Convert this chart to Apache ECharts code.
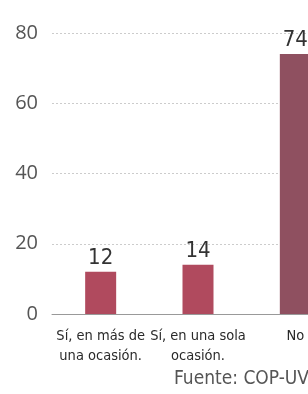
<!DOCTYPE html>
<html><head><meta charset="utf-8">
<script src="https://cdn.jsdelivr.net/npm/echarts@6/dist/echarts.min.js"></script>
<style>html,body{margin:0;padding:0;background:#fff;overflow:hidden;width:308px;height:394px;}#c{width:344px;height:394px;}</style>
</head><body><div id="c"></div>
<script>
var categories = ['Sí, en más de\nuna ocasión.', 'Sí, en una sola\nocasión.', 'No'];
var values = [12, 14, 74];
var barColors = ['#b04a5e', '#b04a5e', '#8f5060'];
var yTicks = [0, 20, 40, 60, 80];
var source = 'Fuente: COP-UV';

var chart = echarts.init(document.getElementById('c'));
chart.setOption({
  animation: false,
  backgroundColor: '#fff',
  graphic: [{
    type: 'text', left: 174, top: 370,
    style: { text: source, font: '300 19px "Liberation Sans Narrow", "DejaVu Sans Condensed", sans-serif', fill: '#555' }
  }],
  grid: { left: 52, right: 0, top: 33, bottom: 80, containLabel: false },
  xAxis: {
    type: 'category', data: categories,
    axisTick: { show: false },
    axisLine: { lineStyle: { color: '#999', width: 1 } },
    axisLabel: { color: '#2a2a2a', fontSize: 14.5, lineHeight: 20, margin: 12, interval: 0,
      fontFamily: '"Liberation Sans Narrow", "DejaVu Sans Condensed", sans-serif' }
  },
  yAxis: {
    type: 'value', min: 0, max: 80, interval: 20,
    axisLine: { show: false }, axisTick: { show: false },
    splitLine: { lineStyle: { color: '#ccc', type: [2, 2], width: 1 } },
    axisLabel: { color: '#555', fontSize: 20, margin: 14, fontFamily: 'Open Sans, sans-serif',
      formatter: function (v) { return yTicks.indexOf(v) >= 0 ? String(v) : ''; } }
  },
  series: [{
    type: 'bar', barWidth: 31,
    data: values.map(function (v, i) { return { value: v, itemStyle: { color: barColors[i] } }; }),
    label: { show: true, position: 'top', distance: 3, color: '#333', fontSize: 22,
      fontFamily: '"Liberation Sans Narrow", "DejaVu Sans Condensed", sans-serif' }
  }]
});
</script></body></html>
